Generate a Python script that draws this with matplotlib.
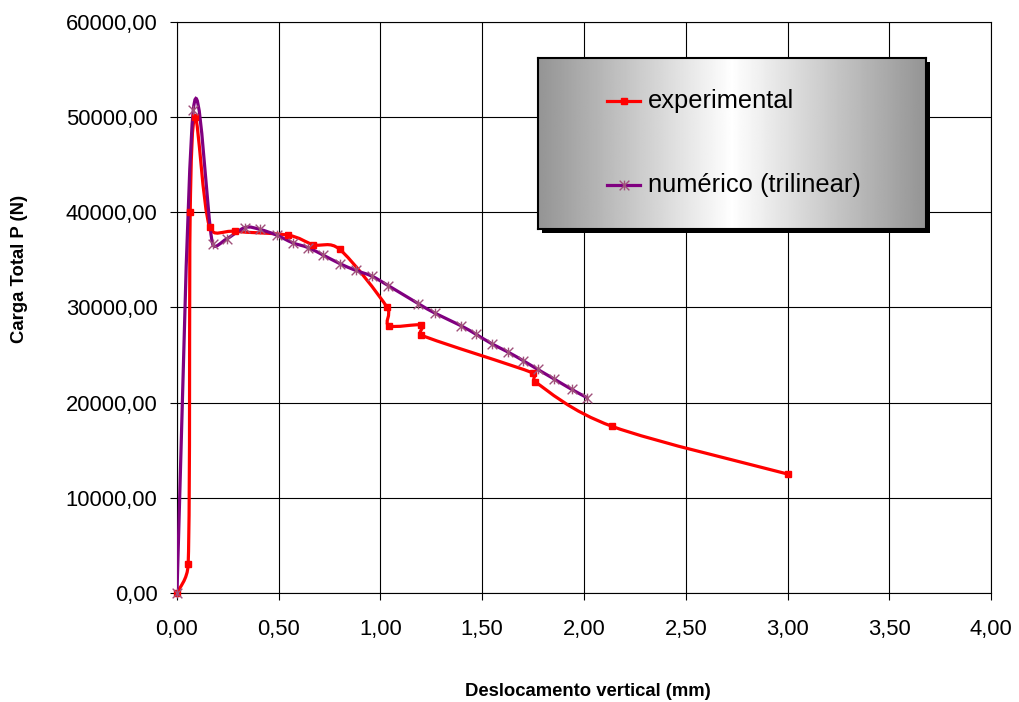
# -*- coding: utf-8 -*-

import numpy as np
import matplotlib
matplotlib.use('Agg')
import matplotlib.pyplot as plt
from matplotlib.path import Path
from matplotlib.patches import PathPatch, Rectangle
from matplotlib.lines import Line2D
from matplotlib.ticker import FuncFormatter, MultipleLocator

plt.rcParams['font.family'] = ['Liberation Sans', 'DejaVu Sans']

# data
exp_x = [0.0, 0.055, 0.065, 0.09, 0.16, 0.285, 0.545, 0.67, 0.80, 1.033, 1.042,
         1.20, 1.20, 1.751, 1.759, 2.139, 3.0]
exp_y = [0, 3000, 40000, 50000, 38500, 38000, 37600, 36600, 36100, 30000, 28100,
         28150, 27100, 23100, 22200, 17500, 12500]

num_x = [0.0, 0.08, 0.175, 0.244, 0.334, 0.408, 0.49, 0.568, 0.643, 0.719, 0.801,
         0.878, 0.957, 1.038, 1.186, 1.268, 1.394, 1.468, 1.546, 1.628, 1.702,
         1.772, 1.852, 1.939, 2.017]
num_y = [0, 50700, 36700, 37200, 38400, 38200, 37600, 36800, 36300, 35500, 34600,
         33900, 33300, 32300, 30400, 29400, 28100, 27200, 26200, 25300, 24400,
         23500, 22500, 21400, 20500]

labels = ['experimental', 'numérico (trilinear)']

RED = '#ff0000'
PURPLE = '#800080'
PLUM = '#a0507a'

# excel-like star marker: an x with a vertical bar
STAR = Path([(-1, -1), (1, 1), (-1, 1), (1, -1), (0, -1), (0, 1)],
            [Path.MOVETO, Path.LINETO] * 3)


def smooth_path(ax, xs, ys, f=1 / 6, k=0.5):
    """Bezier smoothing in screen space, roughly like Excel's smoothed lines."""
    pts = ax.transData.transform(np.column_stack([xs, ys]))
    n = len(pts)
    verts = [pts[0]]
    codes = [Path.MOVETO]
    for i in range(n - 1):
        p0 = pts[max(i - 1, 0)]
        p1 = pts[i]
        p2 = pts[i + 1]
        p3 = pts[min(i + 2, n - 1)]
        seg = np.hypot(*(p2 - p1))
        tans = []
        for t in ((p2 - p0) * f, (p3 - p1) * f):
            ln = np.hypot(*t)
            if ln > k * seg and ln > 0:
                t = t * (k * seg / ln)
            tans.append(t)
        verts += [p1 + tans[0], p2 - tans[1], p2]
        codes += [Path.CURVE4] * 3
    verts = ax.transData.inverted().transform(np.array(verts))
    return Path(verts, codes)


fig = plt.figure(figsize=(10.2, 7.02), dpi=100)
ax = fig.add_axes([0.1735, 0.1553, 0.7981, 0.8134])
ax.set_xlim(0, 4)
ax.set_ylim(0, 60000)

ax.xaxis.set_major_locator(MultipleLocator(0.5))
ax.yaxis.set_major_locator(MultipleLocator(10000))
ax.xaxis.set_major_formatter(FuncFormatter(lambda v, p: ('%.2f' % v).replace('.', ',')))
ax.yaxis.set_major_formatter(FuncFormatter(lambda v, p: ('%.2f' % v).replace('.', ',')))
ax.tick_params(direction='out', length=5, width=0.8, colors='black',
               labelsize=15.8)
ax.tick_params(axis='y', pad=9)
ax.tick_params(axis='x', pad=14)
ax.grid(True, color='black', linewidth=0.8)
ax.set_axisbelow(True)
for s in ax.spines.values():
    s.set_color('black')
    s.set_linewidth(0.8)

# lines
ax.add_patch(PathPatch(smooth_path(ax, exp_x, exp_y), facecolor='none',
                       edgecolor=RED, linewidth=2.3, zorder=3))
ax.add_patch(PathPatch(smooth_path(ax, num_x, num_y), facecolor='none',
                       edgecolor=PURPLE, linewidth=2.3, zorder=4))
ax.plot(exp_x, exp_y, linestyle='none', marker='s', markersize=4.5,
        color=RED, zorder=5, clip_on=False)
ax.plot(num_x, num_y, linestyle='none', marker=STAR, markersize=7,
        markeredgecolor=PLUM, markeredgewidth=1.0, zorder=6, clip_on=False)

fig.text(588 / 1020, 1 - 692 / 702, 'Deslocamento vertical (mm)', ha='center',
         va='center', fontsize=13.3, fontweight='bold')
fig.text(20 / 1020, 1 - 269 / 702, 'Carga Total P (N)', ha='center',
         va='center', rotation=90, fontsize=13.3, fontweight='bold')

# legend box with gradient and shadow
L, B, W, H = 538 / 1020, 1 - 229 / 702, 388 / 1020, 171 / 702
fig.patches.append(Rectangle((L + 4 / 1020, B - 4 / 702), W, H,
                             transform=fig.transFigure, facecolor='black',
                             edgecolor='none', zorder=9))
lax = fig.add_axes([L, B, W, H], zorder=10)
u = np.linspace(0, 1, 400)
grad = 1.0 - 0.42 * np.abs(2 * u - 1)
lax.imshow(np.tile(grad, (2, 1)), cmap='gray', vmin=0, vmax=1, aspect='auto',
           extent=(0, 1, 0, 1))
lax.set_xlim(0, 1)
lax.set_ylim(0, 1)
lax.set_xticks([])
lax.set_yticks([])
for s in lax.spines.values():
    s.set_color('black')
    s.set_linewidth(1.5)

lax.add_line(Line2D([0.178, 0.263], [0.75, 0.75], color=RED, linewidth=2.3))
lax.plot([0.2205], [0.75], marker='s', markersize=4.5, color=RED)
lax.add_line(Line2D([0.178, 0.263], [0.257, 0.257], color=PURPLE, linewidth=2.3))
lax.plot([0.2205], [0.257], marker=STAR, markersize=7, markeredgecolor=PLUM,
         markeredgewidth=1.0)
lax.text(0.284, 0.75, labels[0], fontsize=18.4, va='center', ha='left')
lax.text(0.284, 0.257, labels[1], fontsize=18.4, va='center', ha='left')

fig.savefig('out.png', dpi=100)
